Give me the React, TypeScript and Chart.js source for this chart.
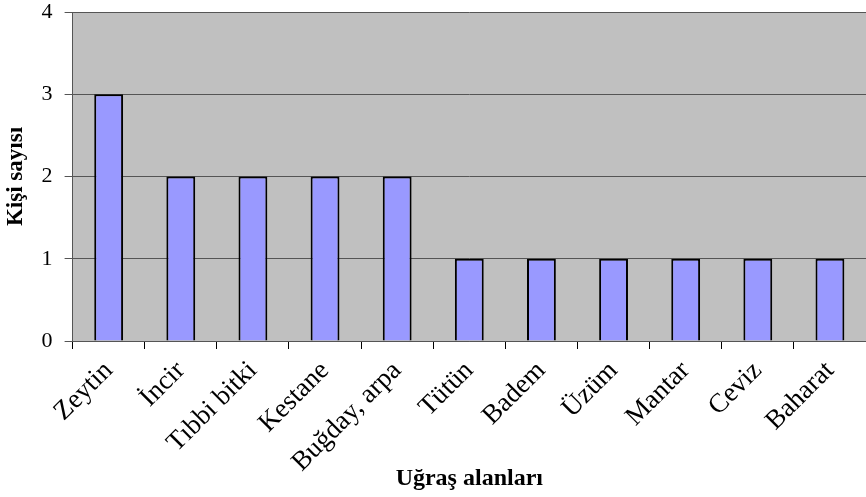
import React, { useEffect, useRef } from "react";
import { Chart, registerables } from "chart.js";
Chart.register(...registerables);

const categories = ["Zeytin", "İncir", "Tıbbi bitki", "Kestane", "Buğday, arpa", "Tütün", "Badem", "Üzüm", "Mantar", "Ceviz", "Baharat"];
const values = [3, 2, 2, 2, 2, 1, 1, 1, 1, 1, 1];
const yTitle = "Kişi sayısı";
const xTitle = "Uğraş alanları";

const bgPlugin = {
  id: "plotBg",
  beforeDraw(chart: any) {
    const { ctx, chartArea } = chart;
    ctx.save();
    ctx.fillStyle = "#C0C0C0";
    ctx.fillRect(chartArea.left, chartArea.top, chartArea.right - chartArea.left, chartArea.bottom - chartArea.top);
    ctx.restore();
  },
};

export default function App() {
  const ref = useRef<HTMLCanvasElement>(null);
  useEffect(() => {
    document.body.style.margin = "0";
    const font = "'Liberation Serif', 'Times New Roman', serif";
    const chart = new Chart(ref.current!, {
      type: "bar",
      data: {
        labels: categories,
        datasets: [
          {
            data: values,
            backgroundColor: "#9999FF",
            borderColor: "#000000",
            borderWidth: 2,
            barPercentage: 0.4,
            categoryPercentage: 1,
          },
        ],
      },
      options: {
        animation: false,
        responsive: false,
        maintainAspectRatio: false,
        layout: { padding: { top: 12, right: 0, left: 0, bottom: 0 } },
        plugins: { legend: { display: false }, tooltip: { enabled: false } },
        scales: {
          x: {
            offset: true,
            grid: { offset: true, drawOnChartArea: false, drawTicks: true, tickLength: 8, color: "#000" },
            border: { color: "#555", width: 1 },
            ticks: { color: "#000", font: { family: font, size: 27 }, minRotation: 45, maxRotation: 45, padding: 6 },
            title: { display: true, text: xTitle, color: "#000", font: { family: font, size: 24, weight: "bold" }, padding: { top: 4, bottom: 4 } },
            afterFit: (s: any) => { s.paddingLeft = 0; s.paddingRight = 0; s.height = 156; },
          },
          y: {
            min: 0,
            max: 4,
            grid: { color: "#555", tickLength: 8, drawTicks: true },
            border: { color: "#555", width: 1 },
            ticks: { stepSize: 1, color: "#000", font: { family: font, size: 22 }, padding: 12 },
            title: { display: true, text: yTitle, color: "#000", font: { family: font, size: 23, weight: "bold" }, padding: { top: 2, bottom: 0 } },
            afterFit: (s: any) => { s.paddingTop = 0; s.paddingBottom = 0; },
          },
        },
      },
      plugins: [bgPlugin],
    });
    return () => chart.destroy();
  }, []);
  return (
    <div style={{ width: 866, height: 497, overflow: "hidden" }}>
      <canvas ref={ref} width={866} height={497} style={{ width: 866, height: 497, display: "block" }} />
    </div>
  );
}
